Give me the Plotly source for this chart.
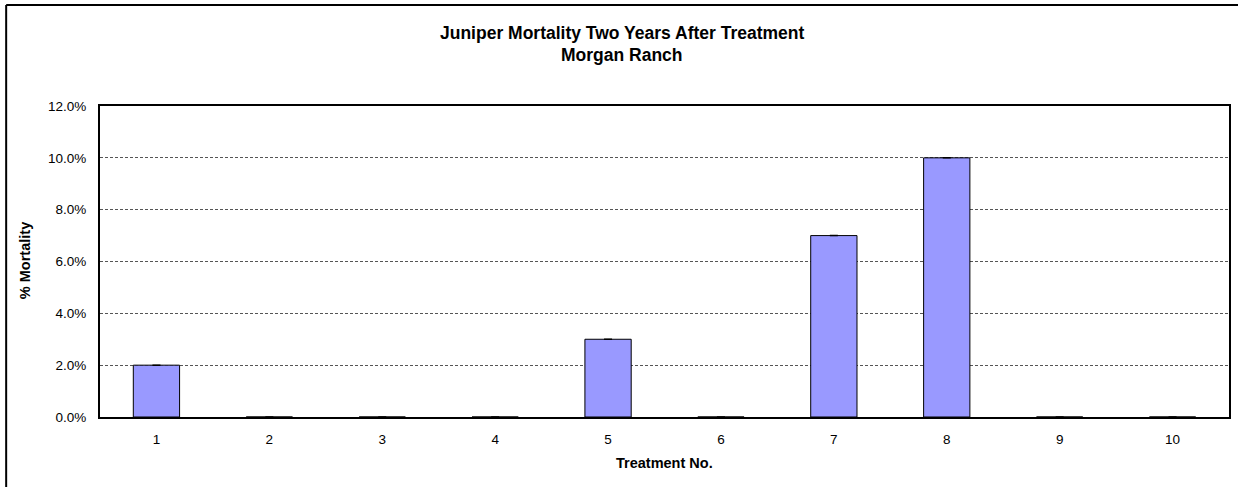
import plotly.graph_objects as go

treatments = ["1", "2", "3", "4", "5", "6", "7", "8", "9", "10"]
mortality = [0.02, 0.0, 0.0, 0.0, 0.03, 0.0, 0.07, 0.10, 0.0, 0.0]
errors = [0.0] * 10

title_line1 = "Juniper Mortality Two Years After Treatment"
title_line2 = "Morgan Ranch"
x_title = "Treatment No."
y_title = "% Mortality"

W, H = 1238, 487
L, R, T, B = 100, 7, 106, 70
PW, PH = W - L - R, H - T - B


def px_x(p):
    return (p - L) / PW


def px_y(p):
    return (H - B - p) / PH


fig = go.Figure()
fig.add_trace(go.Bar(
    x=treatments, y=mortality,
    marker=dict(color="#9999FF", line=dict(color="black", width=1)),
    width=0.41,
    error_y=dict(type="data", array=errors, visible=True, color="black", thickness=1.5, width=4),
    hoverinfo="x+y",
))

fig.update_layout(
    width=W, height=H,
    margin=dict(l=L, r=R, t=T, b=B, pad=0),
    paper_bgcolor="white", plot_bgcolor="white",
    font=dict(family="Liberation Sans, Arial, sans-serif", size=13.5, color="black"),
    showlegend=False,
)

fig.update_xaxes(
    type="category",
    showline=True, linecolor="black", linewidth=2, mirror=True,
    showgrid=False, ticks="", ticklabelstandoff=9,
)
fig.update_yaxes(
    range=[0, 0.12], dtick=0.02, tickformat=".1%",
    showline=True, linecolor="black", linewidth=2, mirror=True,
    showgrid=True, gridcolor="#555555", gridwidth=1, griddash="3px,2px",
    zeroline=False, ticks="", ticklabelstandoff=9,
)

ann_common = dict(xref="paper", yref="paper", showarrow=False,
                  xanchor="center", yanchor="middle")
fig.add_annotation(text="<b>" + title_line1 + "</b>", x=px_x(W / 2 + 4), y=px_y(33),
                   font=dict(size=17.5), **ann_common)
fig.add_annotation(text="<b>" + title_line2 + "</b>", x=px_x(W / 2 + 4), y=px_y(55),
                   font=dict(size=17.5), **ann_common)
fig.add_annotation(text="<b>" + x_title + "</b>", x=px_x(665), y=px_y(463),
                   font=dict(size=14.5), **ann_common)
fig.add_annotation(text="<b>" + y_title + "</b>", x=px_x(25), y=px_y(261),
                   font=dict(size=14.5), textangle=-90, **ann_common)

# outer chart border (top and left edges visible)
fig.add_shape(type="line", xref="paper", yref="paper",
              x0=px_x(6), x1=px_x(W + 20), y0=px_y(5), y1=px_y(5),
              line=dict(color="black", width=2))
fig.add_shape(type="line", xref="paper", yref="paper",
              x0=px_x(6), x1=px_x(6), y0=px_y(5), y1=px_y(H + 20),
              line=dict(color="black", width=2))

fig.write_html("out.html", config={"displayModeBar": False},
               post_script="document.body.style.margin='0';document.body.style.overflow='hidden';")
